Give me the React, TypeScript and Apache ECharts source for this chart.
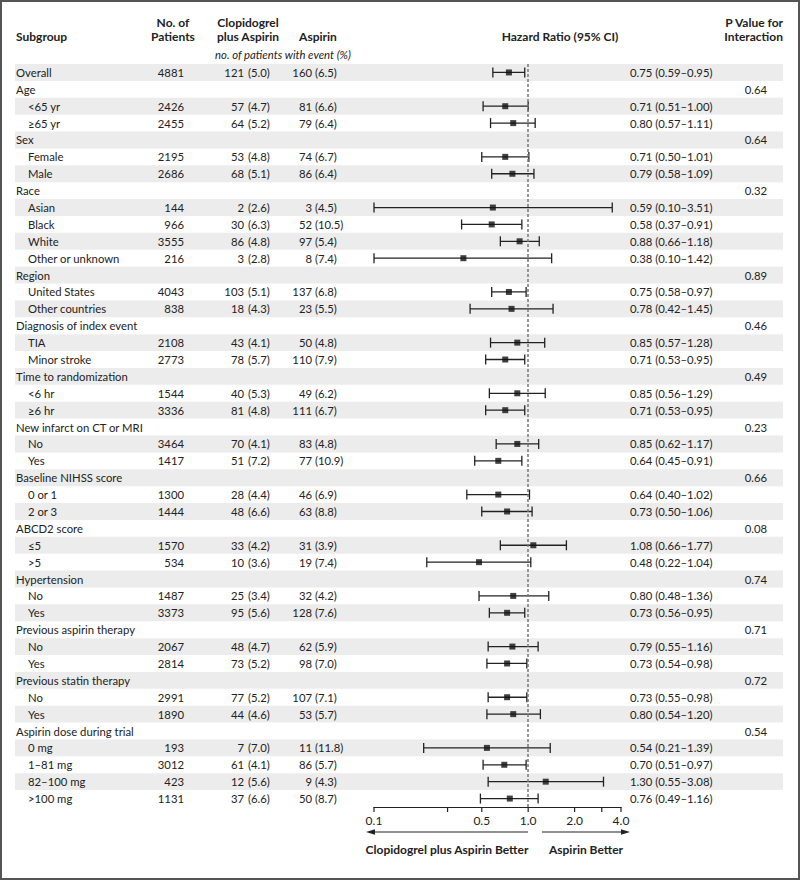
import React, { useEffect, useRef } from "react";
import * as echarts from "echarts";

const subgroups = [
  "Overall", "Age", "<65 yr", "≥65 yr", "Sex", "Female", "Male", "Race", "Asian", "Black", "White",
  "Other or unknown", "Region", "United States", "Other countries", "Diagnosis of index event", "TIA",
  "Minor stroke", "Time to randomization", "<6 hr", "≥6 hr", "New infarct on CT or MRI", "No", "Yes",
  "Baseline NIHSS score", "0 or 1", "2 or 3", "ABCD2 score", "≤5", ">5", "Hypertension", "No", "Yes",
  "Previous aspirin therapy", "No", "Yes", "Previous statin therapy", "No", "Yes",
  "Aspirin dose during trial", "0 mg", "1–81 mg", "82–100 mg", ">100 mg",
];
const levels = [
  0, 0, 1, 1, 0, 1, 1, 0, 1, 1, 1, 1, 0, 1, 1, 0, 1, 1, 0, 1, 1, 0, 1, 1, 0, 1, 1, 0, 1, 1, 0, 1, 1,
  0, 1, 1, 0, 1, 1, 0, 1, 1, 1, 1,
];
const patients = [
  4881, null, 2426, 2455, null, 2195, 2686, null, 144, 966, 3555, 216, null, 4043, 838, null, 2108,
  2773, null, 1544, 3336, null, 3464, 1417, null, 1300, 1444, null, 1570, 534, null, 1487, 3373, null,
  2067, 2814, null, 2991, 1890, null, 193, 3012, 423, 1131,
];
const clopEvents = [
  121, null, 57, 64, null, 53, 68, null, 2, 30, 86, 3, null, 103, 18, null, 43, 78, null, 40, 81, null,
  70, 51, null, 28, 48, null, 33, 10, null, 25, 95, null, 48, 73, null, 77, 44, null, 7, 61, 12, 37,
];
const clopPct = [
  5.0, null, 4.7, 5.2, null, 4.8, 5.1, null, 2.6, 6.3, 4.8, 2.8, null, 5.1, 4.3, null, 4.1, 5.7, null,
  5.3, 4.8, null, 4.1, 7.2, null, 4.4, 6.6, null, 4.2, 3.6, null, 3.4, 5.6, null, 4.7, 5.2, null, 5.2,
  4.6, null, 7.0, 4.1, 5.6, 6.6,
];
const aspEvents = [
  160, null, 81, 79, null, 74, 86, null, 3, 52, 97, 8, null, 137, 23, null, 50, 110, null, 49, 111,
  null, 83, 77, null, 46, 63, null, 31, 19, null, 32, 128, null, 62, 98, null, 107, 53, null, 11, 86, 9, 50,
];
const aspPct = [
  6.5, null, 6.6, 6.4, null, 6.7, 6.4, null, 4.5, 10.5, 5.4, 7.4, null, 6.8, 5.5, null, 4.8, 7.9, null,
  6.2, 6.7, null, 4.8, 10.9, null, 6.9, 8.8, null, 3.9, 7.4, null, 4.2, 7.6, null, 5.9, 7.0, null, 7.1,
  5.7, null, 11.8, 5.7, 4.3, 8.7,
];
const hazardRatio = [
  0.75, null, 0.71, 0.8, null, 0.71, 0.79, null, 0.59, 0.58, 0.88, 0.38, null, 0.75, 0.78, null, 0.85,
  0.71, null, 0.85, 0.71, null, 0.85, 0.64, null, 0.64, 0.73, null, 1.08, 0.48, null, 0.8, 0.73, null,
  0.79, 0.73, null, 0.73, 0.8, null, 0.54, 0.7, 1.3, 0.76,
];
const ciLow = [
  0.59, null, 0.51, 0.57, null, 0.5, 0.58, null, 0.1, 0.37, 0.66, 0.1, null, 0.58, 0.42, null, 0.57,
  0.53, null, 0.56, 0.53, null, 0.62, 0.45, null, 0.4, 0.5, null, 0.66, 0.22, null, 0.48, 0.56, null,
  0.55, 0.54, null, 0.55, 0.54, null, 0.21, 0.51, 0.55, 0.49,
];
const ciHigh = [
  0.95, null, 1.0, 1.11, null, 1.01, 1.09, null, 3.51, 0.91, 1.18, 1.42, null, 0.97, 1.45, null, 1.28,
  0.95, null, 1.29, 0.95, null, 1.17, 0.91, null, 1.02, 1.06, null, 1.77, 1.04, null, 1.36, 0.95, null,
  1.16, 0.98, null, 0.98, 1.2, null, 1.39, 0.97, 3.08, 1.16,
];
const pInteraction = [
  null, "0.64", null, null, "0.64", null, null, "0.32", null, null, null, null, "0.89", null, null,
  "0.46", null, null, "0.49", null, null, "0.23", null, null, "0.66", null, null, "0.08", null, null,
  "0.74", null, null, "0.71", null, null, "0.72", null, null, "0.54", null, null, null, null,
];
const tickValues = [0.1, 0.3, 0.5, 1, 2, 3, 4];
const tickLabels = ["0.1", "", "0.5", "1.0", "2.0", "", "4.0"];

const FONT = "Lato";
const INK = "#222";
const BODY = 11.3;
const N = subgroups.length;

export default function App() {
  const ref = useRef<HTMLDivElement>(null);
  useEffect(() => {
    const chart = echarts.init(ref.current!, null, { renderer: "svg" });
    const txt = (text: string, x: number, y: number, align: string, extra: any = {}) => ({
      type: "text",
      style: {
        text, x, y, align, verticalAlign: "middle", fill: INK,
        fontFamily: FONT, fontSize: BODY, ...extra,
      },
    });
    const head = (text: string, x: number, y: number, align: string) =>
      txt(text, x, y, align, { fontWeight: "bold", fontSize: 12 });
    const rows = subgroups.map((_, i) => [1, i]);
    const ciData: any[] = [];
    const hrData: any[] = [];
    subgroups.forEach((_, i) => {
      if (hazardRatio[i] != null) {
        ciData.push([ciLow[i], ciHigh[i], i]);
        hrData.push([hazardRatio[i], i]);
      }
    });
    const option: any = {
      animation: false,
      grid: { left: 374, width: 247, top: 64, height: 743 },
      xAxis: {
        type: "log", logBase: 10, min: 0.1, max: 4,
        axisLine: { show: true, onZero: false, lineStyle: { color: INK, width: 1.2 } },
        axisTick: { show: false }, axisLabel: { show: false },
        splitLine: { show: false }, minorTick: { show: false }, minorSplitLine: { show: false },
      },
      yAxis: {
        type: "value", inverse: true, min: -0.5, max: N - 0.5, show: false,
        splitLine: { show: false },
      },
      graphic: [
        { type: "rect", shape: { x: 1, y: 1, width: 798, height: 878 }, style: { fill: "none", stroke: "#555", lineWidth: 2 }, z: 100 },
        head("Subgroup", 16, 36, "left"),
        head("No. of", 173, 22, "center"),
        head("Patients", 173, 36, "center"),
        head("Clopidogrel", 248, 22, "center"),
        head("plus Aspirin", 248, 36, "center"),
        head("Aspirin", 318, 36, "center"),
        txt("no. of patients with event (%)", 283, 54, "center", { fontStyle: "italic" }),
        head("Hazard Ratio (95% CI)", 560, 36, "center"),
        head("P Value for", 783, 22, "right"),
        head("Interaction", 783, 36, "right"),
        { type: "line", shape: { x1: 372, y1: 832, x2: 528, y2: 832 }, style: { stroke: INK, lineWidth: 1.2 } },
        { type: "polygon", shape: { points: [[366, 832], [375, 829.3], [375, 834.7]] }, style: { fill: INK } },
        { type: "line", shape: { x1: 542, y1: 832, x2: 624, y2: 832 }, style: { stroke: INK, lineWidth: 1.2 } },
        { type: "polygon", shape: { points: [[630, 832], [621, 829.3], [621, 834.7]] }, style: { fill: INK } },
        head("Clopidogrel plus Aspirin Better", 447, 849, "center"),
        head("Aspirin Better", 586, 849, "center"),
      ],
      series: [
        {
          type: "custom", name: "stripes", z: 0, silent: true, clip: false,
          data: rows.filter((r) => r[1] % 2 === 0),
          renderItem: (params: any, api: any) => {
            const r = api.value(1);
            const y0 = api.coord([1, r - 0.5])[1];
            const y1 = api.coord([1, r + 0.5])[1];
            return { type: "rect", shape: { x: 15, y: y0, width: 768, height: y1 - y0 }, style: { fill: "#ececec" } };
          },
        },
        {
          type: "custom", name: "table", z: 3, silent: true, clip: false,
          data: rows,
          renderItem: (params: any, api: any) => {
            const i = api.value(1);
            const y = api.coord([1, i])[1];
            const ch: any[] = [txt(subgroups[i], levels[i] ? 28 : 16, y, "left")];
            if (patients[i] != null) {
              ch.push(txt(String(patients[i]), 184, y, "right"));
              ch.push(txt(String(clopEvents[i]), 244, y, "right"));
              ch.push(txt(`(${(clopPct[i] as number).toFixed(1)})`, 248, y, "left"));
              ch.push(txt(String(aspEvents[i]), 312, y, "right"));
              ch.push(txt(`(${(aspPct[i] as number).toFixed(1)})`, 315, y, "left"));
              ch.push(txt(`${(hazardRatio[i] as number).toFixed(2)} (${(ciLow[i] as number).toFixed(2)}–${(ciHigh[i] as number).toFixed(2)})`, 630, y, "left"));
            }
            if (pInteraction[i]) ch.push(txt(pInteraction[i] as string, 767, y, "right"));
            return { type: "group", children: ch };
          },
        },
        {
          type: "custom", name: "ci", z: 4, silent: true, clip: false,
          data: ciData,
          encode: { x: [0, 1], y: 2 },
          renderItem: (params: any, api: any) => {
            const r = api.value(2);
            const p1 = api.coord([api.value(0), r]);
            const p2 = api.coord([api.value(1), r]);
            const h = 5;
            const st = { stroke: INK, lineWidth: 1.3 };
            return {
              type: "group",
              children: [
                { type: "line", shape: { x1: p1[0], y1: p1[1], x2: p2[0], y2: p2[1] }, style: st },
                { type: "line", shape: { x1: p1[0], y1: p1[1] - h, x2: p1[0], y2: p1[1] + h }, style: st },
                { type: "line", shape: { x1: p2[0], y1: p2[1] - h, x2: p2[0], y2: p2[1] + h }, style: st },
              ],
            };
          },
        },
        {
          type: "scatter", name: "hr", z: 5, silent: true,
          symbol: "rect", symbolSize: 6,
          itemStyle: { color: "#111" },
          data: hrData,
          markLine: {
            silent: true, symbol: ["none", "none"], label: { show: false },
            lineStyle: { color: "#777", type: [3, 2], width: 1.5 },
            data: [{ xAxis: 1 }],
          },
        },
        {
          type: "custom", name: "ticks", z: 4, silent: true, clip: false,
          data: tickValues.map((v, i) => [v, N - 0.5, i]),
          renderItem: (params: any, api: any) => {
            const p = api.coord([api.value(0), api.value(1)]);
            const i = api.value(2);
            return {
              type: "group",
              children: [
                { type: "line", shape: { x1: p[0], y1: p[1], x2: p[0], y2: p[1] + 5 }, style: { stroke: INK, lineWidth: 1.2 } },
                txt(tickLabels[i], p[0], p[1] + 13, "center", { fontSize: 12 }),
              ],
            };
          },
        },
      ],
    };
    chart.setOption(option);
    return () => chart.dispose();
  }, []);
  return <div ref={ref} style={{ position: "absolute", left: 0, top: 0, width: 800, height: 880 }} />;
}
